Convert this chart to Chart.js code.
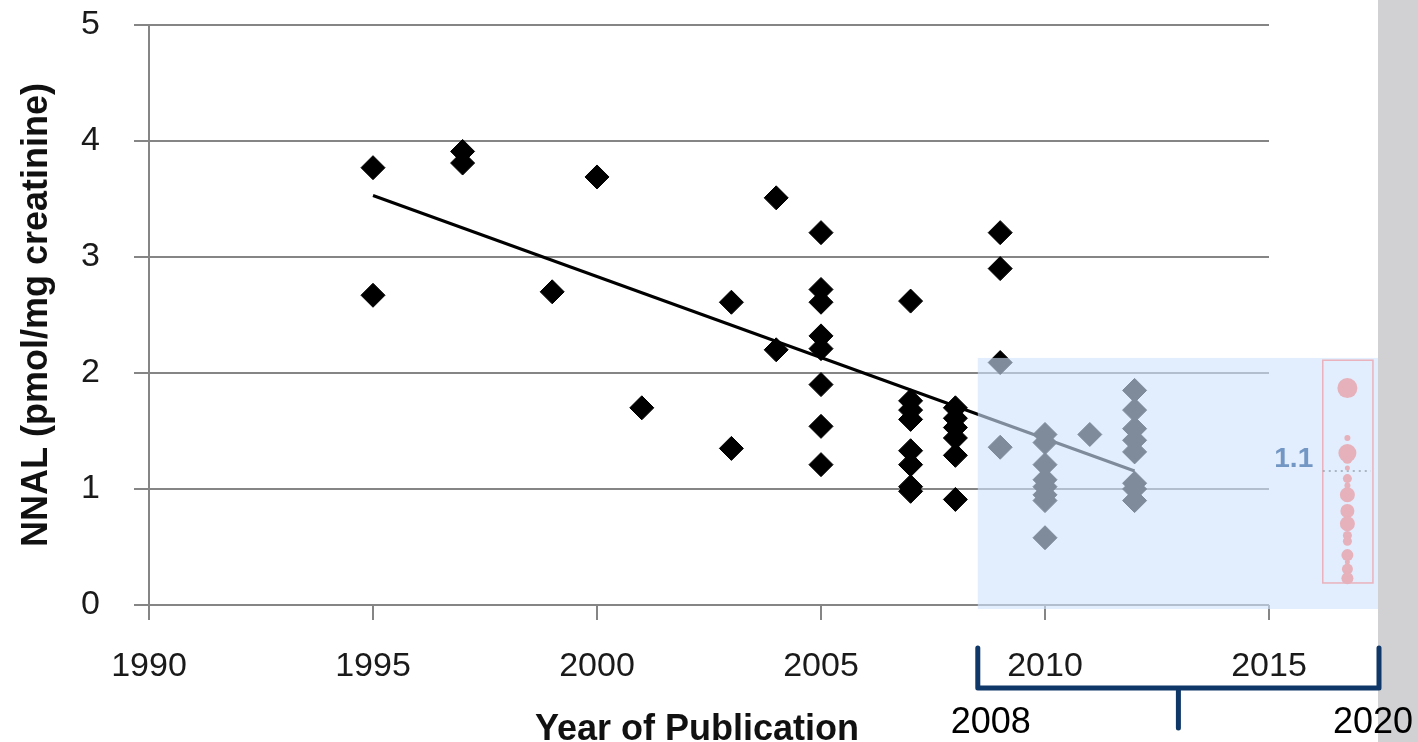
<!DOCTYPE html>
<html>
<head>
<meta charset="utf-8">
<script src="https://cdn.jsdelivr.net/npm/chart.js@4"></script>
<style>
  html, body { margin: 0; padding: 0; background: #fff; }
  canvas { display: block; }
</style>
</head>
<body>
<canvas id="nnal-chart" width="1418" height="742"></canvas>
<script>
// publication year / NNAL level of each study (black diamonds)
const studyYears = [
  1995, 1995,
  1997, 1997,
  1999,
  2000,
  2001,
  2003, 2003,
  2004, 2004,
  2005, 2005, 2005, 2005, 2005, 2005, 2005, 2005,
  2007, 2007, 2007, 2007, 2007, 2007, 2007, 2007,
  2008, 2008, 2008, 2008, 2008, 2008,
  2009, 2009, 2009, 2009,
  2010, 2010, 2010, 2010, 2010, 2010, 2010, 2010,
  2011,
  2012, 2012, 2012, 2012, 2012, 2012, 2012, 2012
];
const studyNNAL = [
  3.77, 2.67,
  3.91, 3.81,
  2.70,
  3.69,
  1.70,
  2.61, 1.35,
  3.51, 2.20,
  3.21, 2.72, 2.61, 2.32, 2.21, 1.90, 1.54, 1.21,
  2.62, 1.76, 1.68, 1.60, 1.33, 1.21, 1.02, 0.98,
  1.70, 1.61, 1.53, 1.44, 1.29, 0.91,
  3.21, 2.90, 2.09, 1.36,
  1.47, 1.40, 1.21, 1.08, 1.02, 0.95, 0.90, 0.58,
  1.47,
  1.85, 1.68, 1.52, 1.42, 1.32, 1.05, 1.00, 0.90
];

// trend line end points
const trendYears = [1995, 2012];
const trendNNAL = [3.53, 1.155];

// newer studies 2008-2020 (pink dots), all in one column
const recentYear = 2016.75;
const recentNNAL = [1.87, 1.44, 1.31, 1.26, 1.18, 1.09, 1.03, 0.95, 0.81, 0.70, 0.60, 0.55, 0.43, 0.37, 0.31, 0.23];
const recentDotRadius = [10, 3, 9, 5, 2.5, 4.5, 3, 7.5, 7, 7.5, 4.5, 4.5, 6, 2.5, 5.5, 6];
const recentMean = 1.155;
const recentMeanLabel = '1.1';

const xTickYears = [1990, 1995, 2000, 2005, 2010, 2015];
const yTickValues = [0, 1, 2, 3, 4, 5];
const highlightYears = [2008.5, 2017.5];
const highlightTop = 2.13;
const recentBoxYears = [2016.2, 2017.32];
const recentBoxNNAL = [0.19, 2.11];
const bracketLabels = ['2008', '2020'];
const xTitle = 'Year of Publication';

const FONT = '"Liberation Sans", Arial, sans-serif';
const GRID = '#858585';

const decor = {
  id: 'decor',
  beforeDraw(chart) {
    const c = chart.ctx;
    c.save();
    c.fillStyle = '#fff';
    c.fillRect(0, 0, chart.width, chart.height);
    c.restore();
  },
  beforeDatasetsDraw(chart) {
    const c = chart.ctx, xs = chart.scales.x, ys = chart.scales.y;
    const x0 = xs.getPixelForValue(xTickYears[0]);
    const x1 = xs.getPixelForValue(xTickYears[xTickYears.length - 1]);
    c.save();
    c.strokeStyle = GRID;
    c.lineWidth = 2.2;
    yTickValues.forEach(v => {
      const y = ys.getPixelForValue(v);
      c.beginPath();
      c.moveTo(x0, y);
      c.lineTo(x1, y);
      c.stroke();
    });
    c.restore();
  },
  afterDatasetDraw(chart, args) {
    if (args.index !== 1) return;
    const c = chart.ctx, xs = chart.scales.x, ys = chart.scales.y;
    // light blue highlight over the recent years
    const hx0 = xs.getPixelForValue(highlightYears[0]);
    const hx1 = xs.getPixelForValue(highlightYears[1]);
    const hy0 = ys.getPixelForValue(highlightTop);
    const hy1 = ys.getPixelForValue(0) + 4;
    c.save();
    c.fillStyle = 'rgba(208, 226, 251, 0.61)';
    c.fillRect(hx0, hy0, hx1 - hx0, hy1 - hy0);
    // box round the new studies
    const bx0 = xs.getPixelForValue(recentBoxYears[0]);
    const bx1 = xs.getPixelForValue(recentBoxYears[1]);
    const by0 = ys.getPixelForValue(recentBoxNNAL[1]);
    const by1 = ys.getPixelForValue(recentBoxNNAL[0]);
    c.strokeStyle = '#e9b2bc';
    c.lineWidth = 1.5;
    c.strokeRect(bx0, by0, bx1 - bx0, by1 - by0);
    // mean line
    const my = ys.getPixelForValue(recentMean);
    c.strokeStyle = '#9aa4b0';
    c.lineWidth = 1.5;
    c.setLineDash([2, 4]);
    c.beginPath();
    c.moveTo(bx0, my);
    c.lineTo(bx1 - 2, my);
    c.stroke();
    c.setLineDash([]);
    c.fillStyle = '#7397c4';
    c.font = 'bold 28px ' + FONT;
    c.textAlign = 'center';
    c.textBaseline = 'alphabetic';
    c.fillText(recentMeanLabel, bx0 - 29, my - 4);
    c.restore();
  },
  afterDatasetsDraw(chart) {
    const c = chart.ctx;
    c.save();
    c.fillStyle = '#d1d1d3';
    c.fillRect(1378, 0, chart.width - 1378, chart.height);
    c.restore();
  },
  afterDraw(chart) {
    const c = chart.ctx, xs = chart.scales.x, ys = chart.scales.y;
    const base = ys.getPixelForValue(0);
    c.save();
    // axis title, centred under the 1990-2015 span
    const tx = (xs.getPixelForValue(xTickYears[0]) + xs.getPixelForValue(xTickYears[xTickYears.length - 1])) / 2 - 12;
    c.fillStyle = '#111';
    c.font = 'bold 36px ' + FONT;
    c.textAlign = 'center';
    c.textBaseline = 'alphabetic';
    c.fillText(xTitle, tx, base + 135);
    // bracket 2008-2020
    const bx0 = xs.getPixelForValue(highlightYears[0]);
    const bx1 = xs.getPixelForValue(highlightYears[1]) - 2;
    const top = base + 43, mid = base + 83, stem = base + 123;
    c.strokeStyle = '#0f3868';
    c.lineWidth = 5;
    c.lineCap = 'round';
    c.lineJoin = 'round';
    c.beginPath();
    c.moveTo(bx0, top);
    c.lineTo(bx0, mid);
    c.lineTo(bx1, mid);
    c.lineTo(bx1, top);
    c.moveTo((bx0 + bx1) / 2, mid);
    c.lineTo((bx0 + bx1) / 2, stem);
    c.stroke();
    c.fillStyle = '#000';
    c.font = '36px ' + FONT;
    c.fillText(bracketLabels[0], bx0 + 13, base + 128);
    c.fillText(bracketLabels[1], bx1 - 6, base + 128);
    c.restore();
  }
};

new Chart(document.getElementById('nnal-chart').getContext('2d'), {
  type: 'scatter',
  data: {
    datasets: [
      {
        label: 'Studies 2008-2020',
        data: recentNNAL.map(v => ({ x: recentYear, y: v })),
        pointStyle: 'circle',
        pointRadius: recentDotRadius,
        backgroundColor: '#e6b1bb',
        borderWidth: 0,
        clip: false
      },
      {
        label: 'Trend',
        data: trendYears.map((yr, i) => ({ x: yr, y: trendNNAL[i] })),
        showLine: true,
        borderColor: '#000',
        borderWidth: 3,
        pointRadius: 0
      },
      {
        label: 'NNAL',
        data: studyYears.map((yr, i) => ({ x: yr, y: studyNNAL[i] })),
        pointStyle: 'rectRot',
        pointRadius: 12,
        backgroundColor: '#000',
        borderColor: '#000',
        borderWidth: 1,
        clip: false
      }
    ]
  },
  options: {
    responsive: false,
    animation: false,
    devicePixelRatio: 1,
    layout: { padding: { top: 25, right: 37, left: 0, bottom: 0 } },
    plugins: {
      legend: { display: false },
      tooltip: { enabled: false }
    },
    scales: {
      x: {
        type: 'linear',
        min: 1990,
        max: 2017.5,
        afterBuildTicks: scale => { scale.ticks = xTickYears.map(v => ({ value: v })); },
        afterFit: scale => { scale.height = 137; scale.paddingLeft = 0; scale.paddingRight = 0; },
        border: { display: false },
        grid: { drawOnChartArea: false, drawTicks: true, tickLength: 15, color: GRID, lineWidth: 2 },
        ticks: {
          color: '#1a1a1a',
          padding: 26,
          maxRotation: 0,
          font: { family: FONT, size: 34 },
          callback: v => String(v)
        },
        title: { display: false }
      },
      y: {
        min: 0,
        max: 5,
        afterFit: scale => { scale.width = 149; scale.paddingTop = 0; scale.paddingBottom = 0; },
        border: { display: true, color: GRID, width: 2 },
        grid: { drawOnChartArea: false, drawTicks: true, tickLength: 15, color: GRID, lineWidth: 2 },
        ticks: {
          stepSize: 1,
          color: '#1a1a1a',
          padding: 34,
          font: { family: FONT, size: 34 },
          callback: v => String(v)
        },
        title: {
          display: true,
          text: 'NNAL (pmol/mg creatinine)',
          color: '#111',
          padding: { top: 15, bottom: 0 },
          font: { family: FONT, size: 36, weight: 'bold', lineHeight: 1.2 }
        }
      }
    }
  },
  plugins: [decor]
});
</script>
</body>
</html>
